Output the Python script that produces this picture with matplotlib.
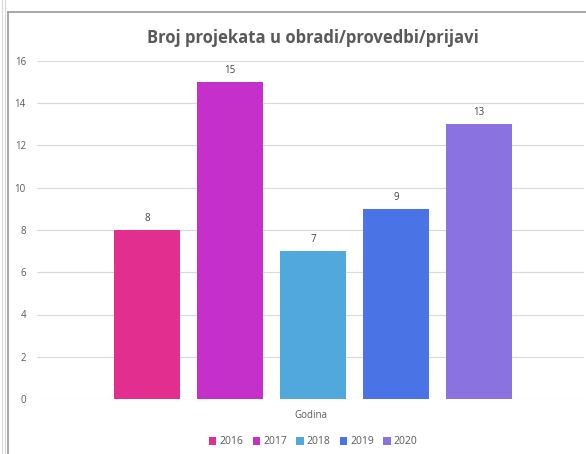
import matplotlib.pyplot as plt

godine = ['2016', '2017', '2018', '2019', '2020']
projekti = [8, 15, 7, 9, 13]
boje = ['#E22E8E', '#C430C9', '#50A8DD', '#4A74E6', '#8A73E0']

plt.rcParams['font.family'] = ['Open Sans', 'DejaVu Sans']

fig = plt.figure(figsize=(5.86, 4.54), dpi=100)
fig.patch.set_facecolor('white')

# okvir grafikona (Excel) - samo gore i lijevo
W, H = 586, 454
fig.add_artist(plt.Line2D([8 / W, 1], [1 - 12 / H, 1 - 12 / H], transform=fig.transFigure,
                          color='#9A9A9A', linewidth=1.2))
fig.add_artist(plt.Line2D([8 / W, 8 / W], [0, 1 - 12 / H], transform=fig.transFigure,
                          color='#9A9A9A', linewidth=1.2))
for xl in (1.5 / W, 4.5 / W):
    fig.add_artist(plt.Line2D([xl, xl], [0, 1], transform=fig.transFigure,
                              color='#D9D9D9', linewidth=0.8))

ax = fig.add_axes([37 / W, 1 - 399 / H, 547 / W, 338 / H])
x = list(range(len(godine)))
bars = ax.bar(x, projekti, width=0.795, color=boje, label=godine, zorder=3)
for b, v in zip(bars, projekti):
    ax.text(b.get_x() + b.get_width() / 2, v + 0.3, str(v), ha='center', va='bottom',
            fontsize=7, color='#404040')

ax.set_xlim(-1.33, 5.27)
ax.set_ylim(0, 16)
ax.set_yticks(range(0, 17, 2))
ax.set_xticks([])
ax.grid(axis='y', color='#D9D9D9', linewidth=0.8, zorder=0)
for s in ax.spines.values():
    s.set_visible(False)
ax.tick_params(axis='y', length=0, labelsize=7, labelcolor='#595959', pad=8)
ax.set_xlabel('Godina', fontsize=7, color='#595959', labelpad=8)

fig.text(313 / W, 1 - 38 / H, 'Broj projekata u obradi/provedbi/prijavi', ha='center',
         va='center', fontsize=12, fontweight='bold', color='#595959')

ax.legend(loc='center', bbox_to_anchor=(0.505, -(442 - 399) / 338), ncol=5, frameon=False,
          fontsize=7.5, handlelength=0.7, handleheight=0.7, handletextpad=0.3,
          columnspacing=0.9, labelcolor='#595959')

fig.savefig('out.png', dpi=100)
